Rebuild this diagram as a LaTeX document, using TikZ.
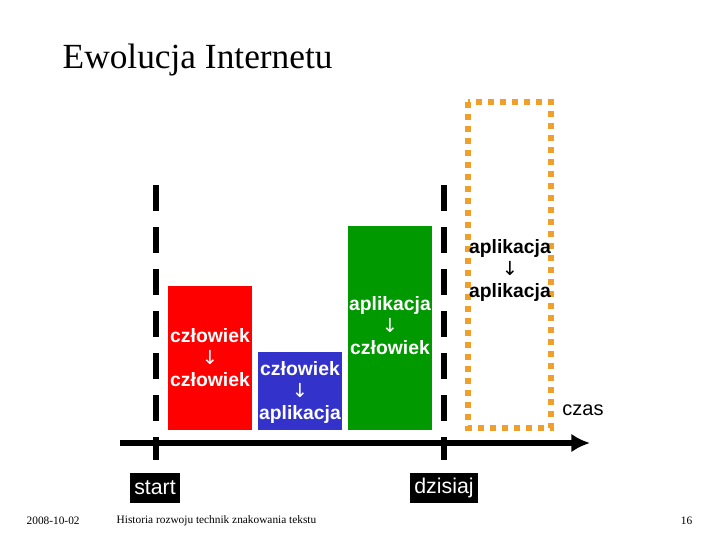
\documentclass[tikz,border=0pt]{standalone}
\usepackage{fontspec}
\usetikzlibrary{arrows.meta}
\setmainfont{Liberation Serif}
\setsansfont{Liberation Sans}
\newfontfamily\dv{DejaVu Sans}
\newcommand{\dn}{{\dv\mdseries ↓}}
\begin{document}
\begin{tikzpicture}[x=0.75pt,y=-0.75pt,
  lbl/.style={font=\sffamily\bfseries\fontsize{14.5}{16.5}\selectfont,align=center,inner sep=0pt},
  dl/.style={line width=4.5pt,dash pattern=on 19.5pt off 12pt},
  tag/.style={fill=black,text=white,font=\sffamily\fontsize{16}{18}\selectfont,inner sep=3pt,minimum height=23pt}]
\useasboundingbox (0,0) rectangle (720,540);
\node[anchor=west,font=\fontsize{26.5}{30}\selectfont] (title) at (58,60) {Ewolucja Internetu};
\definecolor{myred}{RGB}{255,0,0}
\definecolor{myblue}{RGB}{51,51,204}
\definecolor{mygreen}{RGB}{0,153,0}
\definecolor{myorange}{RGB}{240,160,40}
\draw[dl] (156,185) -- (156,460);
\draw[dl] (444,185) -- (444,460);
\fill[myred] (168,286) rectangle (252,430);
\fill[myblue] (258,352) rectangle (342,430);
\fill[mygreen] (348,226) rectangle (432,430);
\draw[myorange,line width=4pt,dash pattern=on 4.5pt off 4.5pt] (468,102) rectangle (551,428);
\node[lbl,text=white] (r) at (210,358) {człowiek\\\dn\\człowiek};
\node[lbl,text=white] (b) at (300,392) {człowiek\\\dn\\aplikacja};
\node[lbl,text=white] (g) at (390,326) {aplikacja\\\dn\\człowiek};
\node[lbl,text=black] (o) at (510,270) {aplikacja\\\dn\\aplikacja};
\coordinate (a0) at (120,443);
\coordinate (a1) at (590,443);
\draw[line width=4.5pt,-{Latex[length=14pt,width=14pt]}] (a0) -- (a1);
\node[font=\sffamily\fontsize{15}{17}\selectfont] (czas) at (583,410) {czas};
\node[tag] (start) at (155,488) {start};
\node[tag] (dz) at (444,488) {dzisiaj};
\node[anchor=west,font=\fontsize{8.5}{10}\selectfont] (d) at (22,521) {2008-10-02};
\node[anchor=west,font=\fontsize{8.5}{10}\selectfont] (h) at (112,521) {Historia rozwoju technik znakowania tekstu};
\node[anchor=east,font=\fontsize{8.5}{10}\selectfont] (n) at (697,521) {16};
\end{tikzpicture}
\end{document}
